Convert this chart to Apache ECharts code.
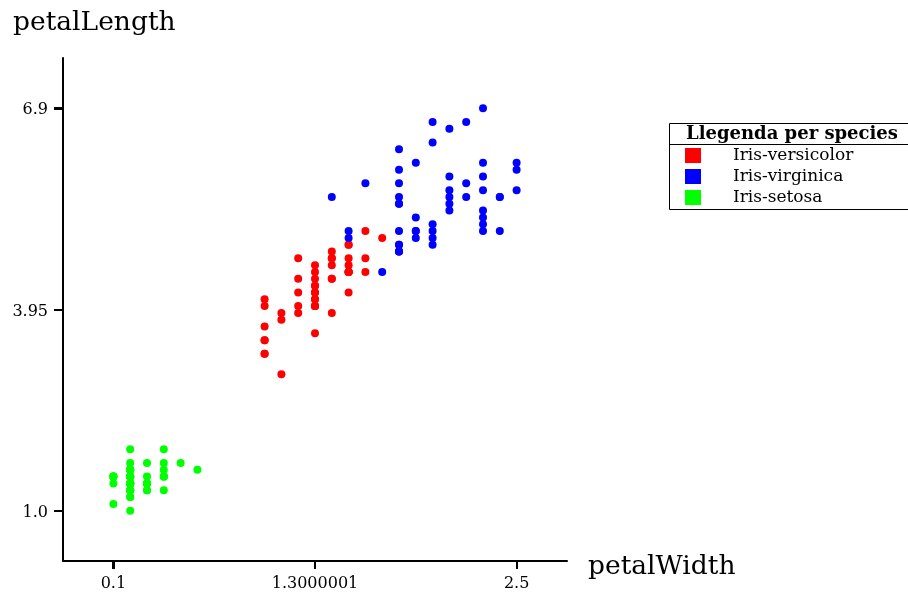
<!DOCTYPE html>
<html>
<head>
<meta charset="utf-8">
<script src="https://cdn.jsdelivr.net/npm/echarts@6/dist/echarts.min.js"></script>
<style>
html,body{margin:0;padding:0;background:#fff;}
#chart{width:908px;height:595px;}
</style>
</head>
<body>
<div id="chart"></div>
<script>
const seriesNames = ['Iris-versicolor', 'Iris-virginica', 'Iris-setosa'];
const seriesColors = ['#ff0000', '#0000ff', '#00ff00'];

const versicolorWidth = [1.4,1.5,1.5,1.3,1.5,1.3,1.6,1.0,1.3,1.4,1.0,1.5,1.0,1.4,1.3,1.4,1.5,1.0,1.5,1.1,1.8,1.3,1.5,1.2,1.3,1.4,1.4,1.7,1.5,1.0,1.1,1.0,1.2,1.6,1.5,1.6,1.5,1.3,1.3,1.3,1.2,1.4,1.2,1.0,1.3,1.2,1.3,1.3,1.1,1.3];
const versicolorLength = [4.7,4.5,4.9,4.0,4.6,4.5,4.7,3.3,4.6,3.9,3.5,4.2,4.0,4.7,3.6,4.4,4.5,4.1,4.5,3.9,4.8,4.0,4.9,4.7,4.3,4.4,4.8,5.0,4.5,3.5,3.8,3.7,3.9,5.1,4.5,4.5,4.7,4.4,4.1,4.0,4.4,4.6,4.0,3.3,4.2,4.2,4.2,4.3,3.0,4.1];

const virginicaWidth = [2.5,1.9,2.1,1.8,2.2,2.1,1.7,1.8,1.8,2.5,2.0,1.9,2.1,2.0,2.4,2.3,1.8,2.2,2.3,1.5,2.3,2.0,2.0,1.8,2.1,1.8,1.8,1.8,2.1,1.6,1.9,2.0,2.2,1.5,1.4,2.3,2.4,1.8,1.8,2.1,2.4,2.3,1.9,2.3,2.5,2.3,1.9,2.0,2.3,1.8];
const virginicaLength = [6.0,5.1,5.9,5.6,5.8,6.6,4.5,6.3,5.8,6.1,5.1,5.3,5.5,5.0,5.1,5.3,5.5,6.7,6.9,5.0,5.7,4.9,6.7,4.9,5.7,6.0,4.8,4.9,5.6,5.8,6.1,6.4,5.6,5.1,5.6,6.1,5.6,5.5,4.8,5.4,5.6,5.1,5.1,5.9,5.7,5.2,5.0,5.2,5.4,5.1];

const setosaWidth = [0.2,0.2,0.2,0.2,0.2,0.4,0.3,0.2,0.2,0.1,0.2,0.2,0.1,0.1,0.2,0.4,0.4,0.3,0.3,0.3,0.2,0.4,0.2,0.5,0.2,0.2,0.4,0.2,0.2,0.2,0.2,0.4,0.1,0.2,0.1,0.2,0.2,0.1,0.2,0.2,0.3,0.3,0.2,0.6,0.4,0.3,0.2,0.2,0.2,0.2];
const setosaLength = [1.4,1.4,1.3,1.5,1.4,1.7,1.4,1.5,1.4,1.5,1.5,1.6,1.4,1.1,1.2,1.5,1.3,1.4,1.7,1.5,1.7,1.5,1.0,1.7,1.9,1.6,1.6,1.5,1.4,1.6,1.6,1.5,1.5,1.4,1.5,1.2,1.3,1.5,1.3,1.5,1.3,1.3,1.3,1.6,1.9,1.4,1.6,1.4,1.5,1.4];

const xTickValues = [0.1, 1.3000001, 2.5];
const xTickLabels = ['0.1', '1.3000001', '2.5'];
const yTickValues = [1.0, 3.95, 6.9];
const yTickLabels = ['1.0', '3.95', '6.9'];

const xName = 'petalWidth';
const yName = 'petalLength';
const legendTitle = 'Llegenda per species';

// ---- build ----
const zip = (a, b) => a.map((v, i) => [v, b[i]]);
const seriesData = [
  zip(versicolorWidth, versicolorLength),
  zip(virginicaWidth, virginicaLength),
  zip(setosaWidth, setosaLength)
];
const labelFor = (vals, labels) => (v) => {
  let best = 0, d = Infinity;
  vals.forEach((t, i) => { const dd = Math.abs(t - v); if (dd < d) { d = dd; best = i; } });
  return labels[best];
};

const FONT = 'DejaVu Serif';
const X_MIN = -0.2, X_MAX = 2.8, Y_MIN = 0.2625, Y_MAX = 7.6375;
const chart = echarts.init(document.getElementById('chart'), null, {renderer: 'canvas'});

const legendBox = [
  {id: 'lbox', type: 'rect', shape: {x: 669.5, y: 123.5, width: 280, height: 86}, style: {fill: 'transparent', stroke: '#000', lineWidth: 1}, z: 1},
  {id: 'lsep', type: 'line', shape: {x1: 669.5, y1: 144.5, x2: 950, y2: 144.5}, style: {stroke: '#000', lineWidth: 1}, z: 1},
  {id: 'ltitle', type: 'text', x: 686, y: 134, style: {text: legendTitle, fontFamily: FONT, fontSize: 18, fontWeight: 'bold', fill: '#000', verticalAlign: 'middle', align: 'left'}, z: 1}
];

chart.setOption({
  animation: false,
  backgroundColor: '#ffffff',
  title: {
    text: yName, left: 13, top: 10, padding: 0,
    textStyle: {fontFamily: FONT, fontSize: 26.5, fontWeight: 'normal', color: '#000'}
  },
  grid: {left: 63, top: 58, right: 341, bottom: 34, containLabel: false, outerBoundsMode: 'none'},
  xAxis: {
    type: 'value', min: X_MIN, max: X_MAX,
    name: xName, nameLocation: 'end', nameGap: 21,
    nameTextStyle: {fontFamily: FONT, fontSize: 26.5, color: '#000', align: 'left', verticalAlign: 'top', lineHeight: 12},
    splitLine: {show: false},
    axisLine: {show: true, onZero: false, lineStyle: {color: '#000', width: 2}},
    axisTick: {show: true, customValues: xTickValues.slice(), length: 8, lineStyle: {color: '#000', width: 2}},
    axisLabel: {customValues: xTickValues.slice(), formatter: labelFor(xTickValues, xTickLabels), margin: 15,
      fontFamily: FONT, fontSize: 16, color: '#000'}
  },
  yAxis: {
    type: 'value', min: Y_MIN, max: Y_MAX,
    splitLine: {show: false},
    axisLine: {show: true, onZero: false, lineStyle: {color: '#000', width: 2}},
    axisTick: {show: true, customValues: yTickValues.slice(), length: 9, lineStyle: {color: '#000', width: 2}},
    axisLabel: {customValues: yTickValues.slice(), formatter: labelFor(yTickValues, yTickLabels), margin: 15,
      fontFamily: FONT, fontSize: 16, color: '#000', verticalAlign: 'top', lineHeight: 4}
  },
  legend: {
    orient: 'vertical', left: 685, top: 147, padding: 0,
    itemWidth: 16, itemHeight: 15, itemGap: 4, icon: 'rect',
    selectedMode: false,
    data: seriesNames,
    textStyle: {fontFamily: FONT, fontSize: 17, color: '#000', lineHeight: 15, padding: [0, 0, 0, 27]}
  },
  graphic: legendBox,
  series: seriesNames.map((n, i) => ({
    name: n, type: 'scatter', symbol: 'circle', symbolSize: 8,
    itemStyle: {color: seriesColors[i], opacity: 1},
    emphasis: {disabled: true},
    data: seriesData[i]
  }))
});

// Tick marks placed through the chart's own axis scales (ensures they are visible).
const axisY = Math.round(chart.convertToPixel({yAxisIndex: 0}, Y_MIN));
const axisX = Math.round(chart.convertToPixel({xAxisIndex: 0}, X_MIN));
const tickMarks = [];
xTickValues.forEach((v, i) => {
  const px = Math.round(chart.convertToPixel({xAxisIndex: 0}, v));
  tickMarks.push({id: 'xt' + i, type: 'line', silent: true, z: 3,
    shape: {x1: px, y1: axisY, x2: px, y2: axisY + 8}, style: {stroke: '#000', lineWidth: 2}});
});
yTickValues.forEach((v, i) => {
  const py = Math.round(chart.convertToPixel({yAxisIndex: 0}, v));
  tickMarks.push({id: 'yt' + i, type: 'line', silent: true, z: 3,
    shape: {x1: axisX - 9, y1: py, x2: axisX, y2: py}, style: {stroke: '#000', lineWidth: 2}});
});
chart.setOption({graphic: legendBox.concat(tickMarks)});
</script>
</body>
</html>
